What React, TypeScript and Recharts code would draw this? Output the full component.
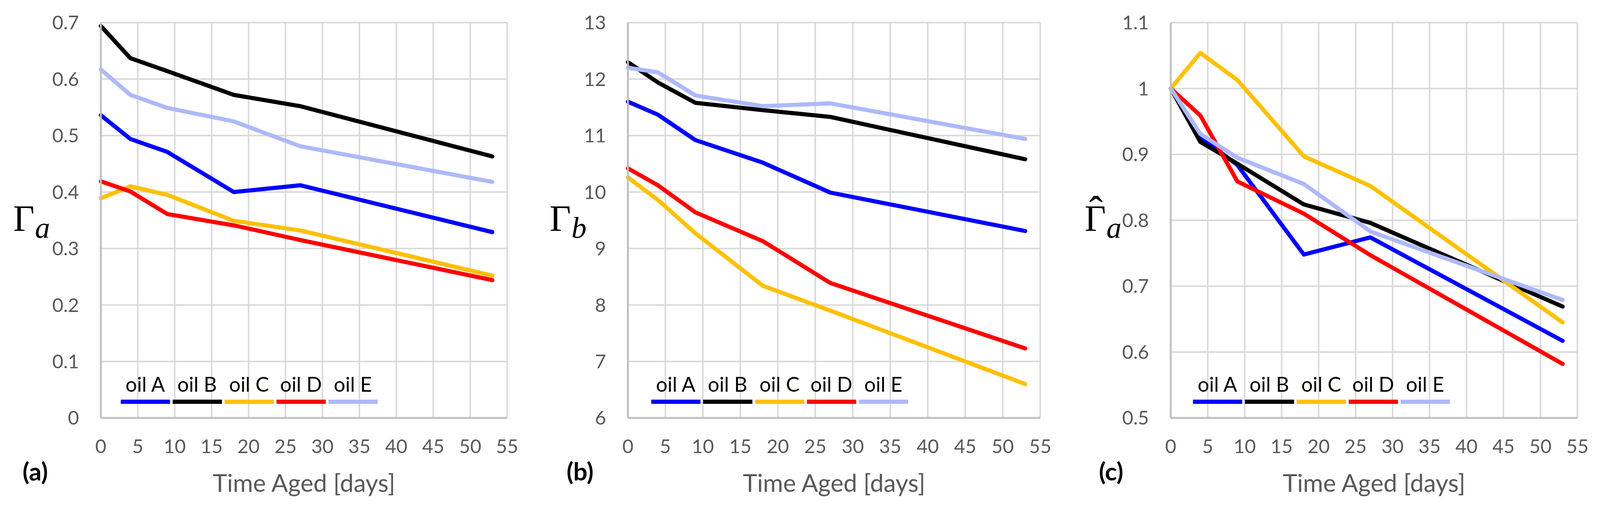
import React, { useLayoutEffect, useState } from 'react';
import { LineChart, Line, XAxis, YAxis, CartesianGrid, Legend } from 'recharts';

// ---------- data ----------
const DAYS = [0, 4, 9, 18, 27, 53];
const SERIES_NAMES = ['oil A', 'oil B', 'oil C', 'oil D', 'oil E'];
const X_TICKS = [0, 5, 10, 15, 20, 25, 30, 35, 40, 45, 50, 55];

// panel (a): Gamma_a
const GA_OIL_A = [0.536, 0.494, 0.471, 0.4, 0.412, 0.329];
const GA_OIL_B = [0.694, 0.637, 0.614, 0.572, 0.552, 0.463];
const GA_OIL_C = [0.389, 0.41, 0.395, 0.349, 0.332, 0.252];
const GA_OIL_D = [0.419, 0.401, 0.361, 0.341, 0.315, 0.244];
const GA_OIL_E = [0.617, 0.572, 0.549, 0.525, 0.481, 0.418];
const TICKS_A = [0, 0.1, 0.2, 0.3, 0.4, 0.5, 0.6, 0.7];

// panel (b): Gamma_b
const GB_OIL_A = [11.6, 11.37, 10.92, 10.52, 9.99, 9.31];
const GB_OIL_B = [12.3, 11.94, 11.58, 11.45, 11.33, 10.58];
const GB_OIL_C = [10.26, 9.86, 9.27, 8.34, 7.9, 6.6];
const GB_OIL_D = [10.42, 10.12, 9.64, 9.13, 8.39, 7.23];
const GB_OIL_E = [12.2, 12.12, 11.71, 11.52, 11.57, 10.94];
const TICKS_B = [6, 7, 8, 9, 10, 11, 12, 13];

// panel (c): normalised Gamma_a
const GN_OIL_A = [1, 0.926, 0.884, 0.748, 0.774, 0.617];
const GN_OIL_B = [1, 0.919, 0.886, 0.824, 0.796, 0.669];
const GN_OIL_C = [1, 1.054, 1.013, 0.897, 0.852, 0.645];
const GN_OIL_D = [1, 0.959, 0.859, 0.81, 0.747, 0.582];
const GN_OIL_E = [1, 0.931, 0.895, 0.855, 0.783, 0.679];
const TICKS_C = [0.5, 0.6, 0.7, 0.8, 0.9, 1, 1.1];

// ---------- styling ----------
const KEYS = ['A', 'B', 'C', 'D', 'E'];
const COLORS = ['#0000FF', '#000000', '#FFC000', '#FF0000', '#ADB9F9'];
const TICK_COLOR = '#595959';
const SANS = 'Lato, "Open Sans", sans-serif';
const SERIF = '"Liberation Serif", "DejaVu Serif", serif';
const PAGE_W = 4253;
const PAGE_H = 1348;
const PLOT_TOP = 60;
const PLOT_BOTTOM = 1110;
const AXIS_W = 10;

function buildRows(series: number[][]) {
  return DAYS.map((d, i) => {
    const r: any = { day: d };
    KEYS.forEach((k, j) => {
      r[k] = series[j][i];
    });
    return r;
  });
}

const PANELS = [
  {
    key: 'a', left: 0, width: 1420, plotL: 268, plotR: 1348,
    domain: [0, 0.7], ticks: TICKS_A,
    rows: buildRows([GA_OIL_A, GA_OIL_B, GA_OIL_C, GA_OIL_D, GA_OIL_E]),
    gammaX: 35, sub: 'a', hat: false, tagX: 60, legendX: 321, tag: '(a)',
  },
  {
    key: 'b', left: 1420, width: 1420, plotL: 1669, plotR: 2765,
    domain: [6, 13], ticks: TICKS_B,
    rows: buildRows([GB_OIL_A, GB_OIL_B, GB_OIL_C, GB_OIL_D, GB_OIL_E]),
    gammaX: 1461, sub: 'b', hat: false, tagX: 1506, legendX: 1731, tag: '(b)',
  },
  {
    key: 'c', left: 2840, width: 1413, plotL: 3112, plotR: 4193,
    domain: [0.5, 1.1], ticks: TICKS_C,
    rows: buildRows([GN_OIL_A, GN_OIL_B, GN_OIL_C, GN_OIL_D, GN_OIL_E]),
    gammaX: 2883, sub: 'a', hat: true, tagX: 2921, legendX: 3171, tag: '(c)',
  },
];

function renderLegend(props: any) {
  const payload = props.payload || [];
  const items = SERIES_NAMES.map((n, i) => {
    const p = payload.find((q: any) => q.value === n);
    return { name: n, color: p && p.color ? p.color : COLORS[i] };
  });
  return (
    <svg width={700} height={100} style={{ display: 'block', overflow: 'visible' }}>
      {items.map((it, i) => {
        const x0 = i * 138;
        return (
          <g key={it.name}>
            <text x={x0 + 65} y={50} textAnchor="middle" fontFamily={SANS} fontSize={54} fill="#000">
              {it.name}
            </text>
            <line x1={x0} x2={x0 + 131} y1={77} y2={77} stroke={it.color} strokeWidth={11} />
          </g>
        );
      })}
    </svg>
  );
}

function Panel({ p }: { p: any }) {
  const local = (x: number) => x - p.left;
  const plotCenter = local((p.plotL + p.plotR) / 2);
  const gx = local(p.gammaX);
  return (
    <div style={{ position: 'absolute', left: p.left, top: 0, width: p.width, height: PAGE_H }}>
      <LineChart
        width={p.width}
        height={PAGE_H}
        data={p.rows}
        margin={{
          top: PLOT_TOP,
          bottom: PAGE_H - PLOT_BOTTOM - AXIS_W,
          left: p.plotL - p.left - AXIS_W,
          right: p.left + p.width - p.plotR,
        }}
      >
        <CartesianGrid stroke="#D9D9D9" strokeWidth={4} />
        <XAxis
          type="number"
          dataKey="day"
          domain={[0, 55]}
          ticks={X_TICKS}
          interval={0}
          height={AXIS_W}
          tickLine={false}
          tickSize={0}
          tickMargin={57}
          axisLine={{ stroke: '#BFBFBF', strokeWidth: 5 }}
          tick={{ fontSize: 51, fill: TICK_COLOR, fontFamily: SANS }}
          label={{
            content: () => (
              <g>
                <text x={plotCenter} y={1306} textAnchor="middle" fontFamily={SANS} fontSize={65} fill={TICK_COLOR}>
                  Time Aged [days]
                </text>
                <text x={local(p.tagX)} y={1276} fontFamily={SANS} fontWeight="bold" fontSize={66} fill="#000">
                  {p.tag}
                </text>
              </g>
            ),
          }}
        />
        <YAxis
          type="number"
          domain={p.domain}
          ticks={p.ticks}
          interval={0}
          width={AXIS_W}
          tickLine={false}
          tickSize={0}
          tickMargin={58}
          axisLine={{ stroke: '#BFBFBF', strokeWidth: 5 }}
          tick={{ fontSize: 51, fill: TICK_COLOR, fontFamily: SANS }}
          label={{
            content: () => (
              <text x={gx} y={614} fontFamily={SERIF} fontSize={98} fill="#000">
                Γ
                {p.hat ? (
                  <tspan x={gx + 30} y={597} textAnchor="middle" fontSize={110}>
                    ˆ
                  </tspan>
                ) : null}
                <tspan x={gx + 58} y={631} fontStyle="italic" fontSize={80}>
                  {p.sub}
                </tspan>
              </text>
            ),
          }}
        />
        <Legend
          layout="horizontal"
          verticalAlign="middle"
          align="center"
          content={renderLegend}
          wrapperStyle={{ left: local(p.legendX), top: 990, width: 700, height: 100 }}
        />
        {KEYS.map((k, i) => (
          <Line
            key={k}
            type="linear"
            dataKey={k}
            name={SERIES_NAMES[i]}
            stroke={COLORS[i]}
            strokeWidth={11}
            strokeLinejoin="round"
            strokeLinecap="round"
            dot={false}
            activeDot={false}
            isAnimationActive={false}
          />
        ))}
      </LineChart>
    </div>
  );
}

export default function App() {
  const [scale, setScale] = useState(1);
  useLayoutEffect(() => {
    const s = Math.min(1, window.innerWidth / PAGE_W, window.innerHeight / PAGE_H);
    setScale(s);
  }, []);
  return (
    <div
      style={{
        position: 'absolute',
        left: 0,
        top: 0,
        width: PAGE_W,
        height: PAGE_H,
        background: '#fff',
        transformOrigin: '0 0',
        transform: `scale(${scale})`,
      }}
    >
      {PANELS.map((p) => (
        <Panel key={p.key} p={p} />
      ))}
    </div>
  );
}
